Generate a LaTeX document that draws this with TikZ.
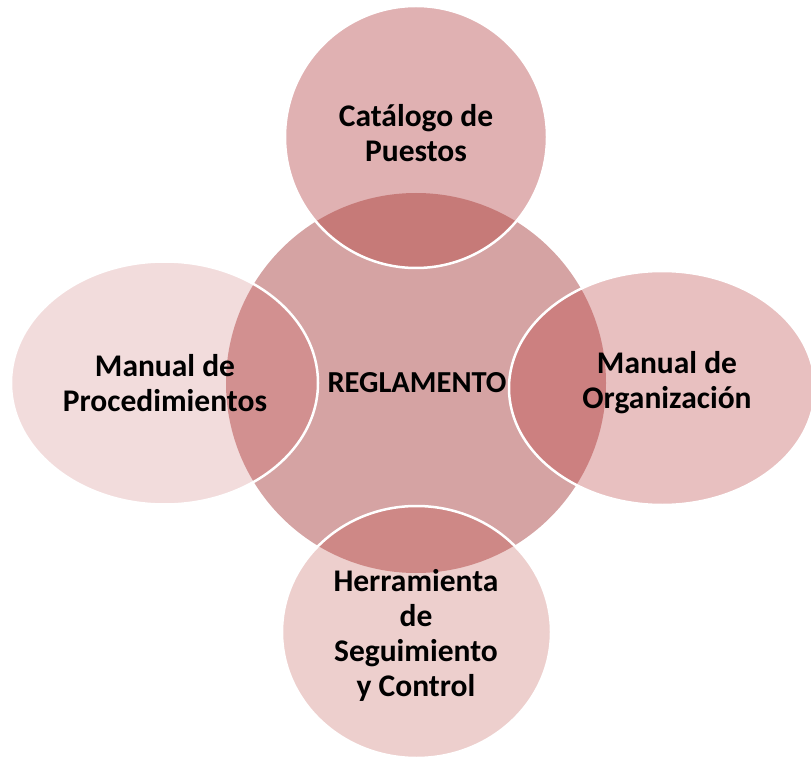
\documentclass[tikz,border=0pt]{standalone}
\usepackage{fontspec}
\setmainfont{Carlito}
\definecolor{cCenter}{HTML}{D5A3A3}
\definecolor{cTop}{HTML}{E0B1B2}
\definecolor{cTopO}{HTML}{C67A78}
\definecolor{cRight}{HTML}{E8C0C0}
\definecolor{cRightO}{HTML}{CC8080}
\definecolor{cLeft}{HTML}{F2DCDC}
\definecolor{cLeftO}{HTML}{D29090}
\definecolor{cBot}{HTML}{EDCFCD}
\definecolor{cBotO}{HTML}{CE8886}
\tikzset{
  lbl/.style={font=\fontsize{31.5}{35}\selectfont\bfseries, align=center, text=black, inner sep=0pt},
  clbl/.style={font=\fontsize{30.5}{35}\selectfont\bfseries, align=center, text=black, inner sep=0pt},
  rim/.style={draw=white, line width=2.5pt}
}
\begin{document}
\begin{tikzpicture}[x=1pt,y=-1pt]
\useasboundingbox (0,0) rectangle (811,759);
\clip (0,0) rectangle (811,759);
% center
\fill[cCenter] (416,383) circle [radius=190];
% outer fills
\fill[cTop] (416,137) circle [radius=131];
\fill[cRight] (662,388) ellipse [x radius=153, y radius=117];
\fill[cLeft] (164.5,383) ellipse [x radius=153.5, y radius=121.5];
\fill[cBot] (416.5,632) ellipse [x radius=134.5, y radius=126];
% overlaps
\begin{scope}
  \clip (416,383) circle [radius=190];
  \fill[cTopO] (416,137) circle [radius=131];
  \fill[cRightO] (662,388) ellipse [x radius=153, y radius=117];
  \fill[cLeftO] (164.5,383) ellipse [x radius=153.5, y radius=121.5];
  \fill[cBotO] (416.5,632) ellipse [x radius=134.5, y radius=126];
\end{scope}
% white rims
\draw[rim] (416,137) circle [radius=131];
\draw[rim] (662,388) ellipse [x radius=153, y radius=117];
\draw[rim] (164.5,383) ellipse [x radius=153.5, y radius=121.5];
\draw[rim] (416.5,632) ellipse [x radius=134.5, y radius=126];
% labels
\node[clbl] (reg) at (417,383) {REGLAMENTO};
\node[lbl] (cat) at (416,133) {Catálogo de\\Puestos};
\node[lbl] (org) at (667,383) {Manual de\\Organización};
\node[lbl] (proc) at (165,383) {Manual de\\Procedimientos};
\node[lbl] (herr) at (416,635) {Herramienta\\de\\Seguimiento\\y Control};
\end{tikzpicture}
\end{document}
